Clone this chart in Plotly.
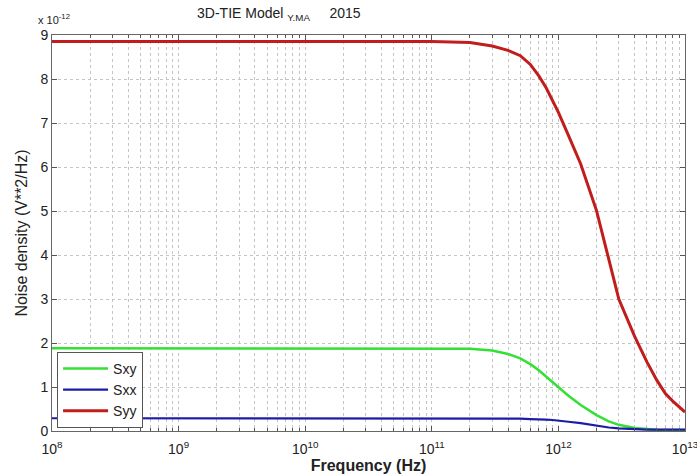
import plotly.graph_objects as go

freq = [1e8, 1e9, 1e10, 1e11, 2e11, 3e11, 4e11, 5e11, 6e11, 7e11, 8e11, 9e11, 1e12,
        1.2e12, 1.5e12, 2e12, 2.5e12, 3e12, 4e12, 5e12, 6e12, 7e12, 8e12, 9e12, 1e13]
syy = [8.85, 8.85, 8.85, 8.85, 8.83, 8.75, 8.65, 8.53, 8.33, 8.07, 7.80, 7.52, 7.24,
       6.72, 6.07, 5.01, 3.92, 3.0, 2.15, 1.57, 1.15, 0.85, 0.68, 0.55, 0.43]
sxy = [1.88, 1.88, 1.88, 1.88, 1.87, 1.83, 1.75, 1.65, 1.52, 1.38, 1.24, 1.11, 1.0,
       0.80, 0.59, 0.36, 0.22, 0.14, 0.07, 0.04, 0.03, 0.02, 0.02, 0.02, 0.02]
sxx = [0.29, 0.29, 0.29, 0.29, 0.29, 0.29, 0.28, 0.28, 0.27, 0.27, 0.26, 0.25, 0.24,
       0.21, 0.18, 0.12, 0.08, 0.06, 0.04, 0.03, 0.03, 0.03, 0.03, 0.03, 0.03]

xtick_vals = [1e8, 1e9, 1e10, 1e11, 1e12, 1e13]
xtick_text = ["10<sup>8</sup>", "10<sup>9</sup>", "10<sup>10</sup>", "10<sup>11</sup>",
              "10<sup>12</sup>", "10<sup>13</sup>"]
xminor_vals = [m * d for d in [1e8, 1e9, 1e10, 1e11, 1e12] for m in range(2, 10)]
ytick_vals = [0, 1, 2, 3, 4, 5, 6, 7, 8, 9]

fig = go.Figure()
fig.add_trace(go.Scatter(x=freq, y=sxy, name="Sxy", mode="lines",
                         line=dict(color="#33e033", width=2.5)))
fig.add_trace(go.Scatter(x=freq, y=sxx, name="Sxx", mode="lines",
                         line=dict(color="#1c1ca8", width=2.2)))
fig.add_trace(go.Scatter(x=freq, y=syy, name="Syy", mode="lines",
                         line=dict(color="#c21d1d", width=3)))

font_main = "Liberation Sans, Arial, sans-serif"
grid_col = "#c4c4c4"

fig.update_layout(
    width=697, height=475,
    margin=dict(l=52, r=12, t=35, b=44),
    paper_bgcolor="white", plot_bgcolor="white",
    font=dict(family=font_main, color="#222", size=13),
    title=dict(text="3D-TIE Model <sub>Y.MA</sub>     2015", x=0.40, xanchor="center",
               y=0.972, yanchor="middle", font=dict(size=14, color="#222")),
    showlegend=True,
    legend=dict(x=0.008, y=0.008, xanchor="left", yanchor="bottom",
                bgcolor="white", bordercolor="#555", borderwidth=1,
                itemwidth=45,
                font=dict(size=14, color="#222"), tracegroupgap=0),
    xaxis=dict(type="log", range=[8, 13], tickvals=xtick_vals, ticktext=xtick_text,
               showgrid=True, gridcolor=grid_col, griddash="dot", gridwidth=1,
               minor=dict(tickmode="array", tickvals=xminor_vals, showgrid=True,
                          gridcolor=grid_col, griddash="dot", gridwidth=1,
                          ticks="inside", ticklen=3, tickcolor="#555"),
               ticks="inside", ticklen=5, tickcolor="#555",
               showline=True, linecolor="#666", linewidth=1, mirror="ticks",
               zeroline=False, ticklabeloverflow="allow", ticklabelstandoff=5,
               automargin=False,
               tickfont=dict(size=14, color="#222"),
               title=dict(text="<b>Frequency (Hz)</b>", font=dict(size=16, color="#222"), standoff=4)),
    yaxis=dict(range=[0, 9], tickvals=ytick_vals,
               showgrid=True, gridcolor=grid_col, griddash="dot", gridwidth=1,
               ticks="inside", ticklen=5, tickcolor="#555",
               showline=True, linecolor="#666", linewidth=1, mirror="ticks",
               zeroline=False, automargin=False,
               tickfont=dict(size=14, color="#222"),
               title=dict(text="Noise density (V**2/Hz)", font=dict(size=16, color="#222"), standoff=8)),
    annotations=[dict(text="x 10<sup>-12</sup>", xref="paper", yref="paper", x=-0.025, y=1.0,
                      xanchor="left", yanchor="bottom", yshift=7, showarrow=False,
                      font=dict(size=11, color="#222"))],
)

fig.write_html("out.html")
